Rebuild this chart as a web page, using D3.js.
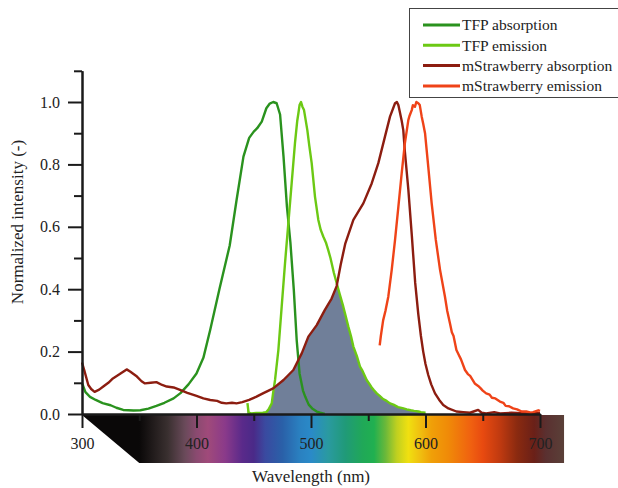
<!DOCTYPE html>
<html>
<head>
<meta charset="utf-8">
<script src="https://cdn.jsdelivr.net/npm/d3@7"></script>
<style>
  body { margin: 0; background: #fff; }
  svg text { font-family: "Liberation Serif", "Times New Roman", serif; fill: #222; }
</style>
</head>
<body>
<svg width="618" height="488"></svg>
<script>
// Spectra, [wavelength nm, normalized intensity]
const tfpAbsorption = [
  [300,0.10],[303,0.07],[307,0.055],[312,0.045],[318,0.035],[325,0.028],[330,0.02],[336,0.013],
  [345,0.011],[351,0.012],[358,0.017],[365,0.026],[372,0.036],[380,0.05],[386,0.067],[393,0.095],
  [400,0.13],[406,0.18],[412,0.27],[420,0.40],[429,0.54],[435,0.686],[441,0.825],[446,0.885],
  [450,0.905],[453,0.916],[457,0.937],[461,0.98],[464,0.995],[467,1.0],[470,0.996],[473,0.96],
  [476,0.825],[479,0.664],[482,0.55],[485,0.397],[487.5,0.237],[490,0.13],[493,0.075],[495,0.055],
  [498,0.03],[501,0.018],[505,0.008],[508,0.004],[512,0.0]
];
const tfpEmission = [
  [444.5,0.035],[445.5,0.004],[448,0.002],[452,0.003],[458,0.004],[461,0.006],[463,0.015],
  [465.7,0.034],[467,0.07],[468.6,0.109],[471.5,0.205],[474.4,0.344],[477.3,0.483],[480.2,0.611],
  [483.1,0.739],[486,0.868],[488,0.94],[489,0.964],[490,0.99],[491.3,1.0],[492.5,0.985],[493.9,0.974],
  [496.8,0.91],[498.5,0.86],[500.6,0.804],[503.5,0.696],[506.4,0.622],[508.5,0.59],[510.8,0.568],
  [513,0.55],[515,0.526],[517,0.5],[520,0.452],[523,0.412],[525,0.385],[528.2,0.344],[530,0.318],
  [532.6,0.28],[535,0.248],[537,0.216],[540,0.186],[542.8,0.152],[545,0.138],[548.6,0.109],
  [551,0.096],[553,0.085],[555,0.076],[557.4,0.066],[560,0.058],[563,0.048],[566,0.042],[569,0.034],
  [572,0.03],[576,0.022],[580,0.019],[583.6,0.015],[587,0.012],[590,0.01],[594,0.008],[596,0.006],[600,0.004]
];
const strawberryAbsorption = [
  [300,0.165],[302,0.14],[305.5,0.093],[308,0.08],[311,0.071],[315,0.078],[318.6,0.088],[323,0.1],
  [327,0.114],[333,0.128],[339,0.143],[342,0.136],[345,0.128],[348,0.12],[352,0.105],[355,0.098],
  [360,0.1],[365,0.102],[370,0.093],[374,0.088],[380,0.085],[385.6,0.077],[392,0.068],[400,0.058],
  [406,0.05],[412,0.045],[418,0.042],[422,0.036],[426,0.034],[431,0.036],[435,0.034],[440,0.038],
  [446,0.045],[452,0.055],[458,0.066],[467,0.082],[476,0.109],[484.6,0.141],[492,0.195],[497.7,0.248],
  [505,0.285],[512,0.333],[518,0.37],[522.4,0.41],[526,0.48],[530,0.547],[537,0.622],[545.7,0.675],
  [553,0.739],[558.8,0.804],[564.6,0.889],[569,0.953],[573.4,0.996],[575,1.0],[576.3,0.99],
  [579.2,0.94],[580.6,0.91],[582,0.84],[585,0.72],[588,0.575],[591,0.42],[593.7,0.32],[596,0.25],
  [598,0.2],[600,0.16],[602.4,0.125],[605,0.095],[608.3,0.066],[612,0.045],[615.5,0.029],[620,0.018],
  [627,0.008],[633,0.006],[638.9,0.004],[642,0.008],[646,0.013],[649,0.004],[653,0.002],[660,0.006],
  [665,0.002],[675,0.004],[690,0.002],[700,0.003]
];
const strawberryEmission = [
  [560,0.22],[561,0.25],[563,0.30],[565,0.33],[567.5,0.376],[570.5,0.462],[573.4,0.558],[576.3,0.664],
  [579.2,0.771],[582,0.868],[585,0.942],[586,0.955],[588,0.974],[589,0.99],[590.8,0.985],[592,1.0],
  [593.7,0.996],[595,0.99],[596.7,0.953],[598,0.93],[599.6,0.90],[602.4,0.793],[605.4,0.675],
  [609,0.558],[612.7,0.462],[617,0.376],[619,0.33],[621.4,0.29],[623,0.262],[624.5,0.25],[627,0.205],
  [629,0.19],[631,0.175],[634.5,0.141],[637,0.128],[639,0.122],[643,0.098],[646,0.09],[648,0.083],
  [650,0.075],[653,0.066],[656,0.062],[658,0.052],[661,0.05],[665,0.04],[668,0.036],[670,0.026],
  [673,0.025],[676.5,0.018],[680,0.015],[684,0.008],[688,0.008],[692,0.004],[694,0.006],[698.5,0.012],[700,0.01]
];

const seriesNames = ["TFP absorption", "TFP emission", "mStrawberry absorption", "mStrawberry emission"];
const seriesColors = ["#2a921e", "#6cc914", "#8c1d10", "#ef4318"];
const seriesData = [tfpAbsorption, tfpEmission, strawberryAbsorption, strawberryEmission];

const xMajorTicks = [300, 400, 500, 600, 700];
const xMinorTicks = [350, 450, 550, 650];
const yMajorTicks = [0, 0.2, 0.4, 0.6, 0.8, 1.0];
const yMinorTicks = [0.1, 0.3, 0.5, 0.7, 0.9, 1.1];

// visible spectrum strip under the x axis
const spectrumNm = [350, 375, 390, 400, 410, 425, 440, 450, 460, 475, 490, 500, 515, 530, 545, 555,
  565, 575, 585, 595, 605, 620, 640, 650, 665, 680, 695, 705, 721];
const spectrumColors = ["#0a0808", "#3a3030", "#6a4a5a", "#8a4a70", "#a04a7a", "#8a3a8a", "#5a2a8a",
  "#4a2a88", "#3a4aa0", "#2a60a8", "#2a80c0", "#2a8ac8", "#2a9aa0", "#209a78", "#20a858", "#20b050",
  "#6ab83a", "#c0d020", "#f0e010", "#f0c010", "#f0a008", "#f08a08", "#f06010", "#e84a10", "#c03a10",
  "#8a2a10", "#6a2018", "#5a3030", "#5a4038"];

var svg = d3.select("svg");

var x = d3.scaleLinear().domain([300, 700]).range([82, 540]);
var y = d3.scaleLinear().domain([0, 1.1]).range([414, 70.8]);

/* spectrum strip */
var barTop = 415, barBottom = 463, barEnd = 721;
var grad = svg.append("defs").append("linearGradient")
  .attr("id", "spec")
  .attr("gradientUnits", "userSpaceOnUse")
  .attr("x1", x(300)).attr("x2", x(barEnd))
  .attr("y1", 0).attr("y2", 0);
grad.append("stop").attr("offset", 0).attr("stop-color", spectrumColors[0]);
spectrumNm.forEach(function (nm, i) {
  grad.append("stop")
    .attr("offset", (x(nm) - x(300)) / (x(barEnd) - x(300)))
    .attr("stop-color", spectrumColors[i]);
});
svg.append("path")
  .attr("d", `M${x(300)},${barTop}L${x(barEnd)},${barTop}L${x(barEnd)},${barBottom}L${x(350)},${barBottom}Z`)
  .attr("fill", "url(#spec)");

/* overlap: under TFP emission AND under mStrawberry absorption */
var area = d3.area()
  .x(d => x(d[0]))
  .y0(y(0))
  .y1(d => y(d[1]));

svg.select("defs").append("clipPath")
  .attr("id", "absClip")
  .append("path")
  .attr("d", area(strawberryAbsorption));

svg.append("path")
  .attr("d", area(tfpEmission))
  .attr("clip-path", "url(#absClip)")
  .attr("fill", "#707f99");

/* curves */
var line = d3.line()
  .x(d => x(d[0]))
  .y(d => y(d[1]));

svg.append("g").attr("class", "curves")
  .selectAll("path")
  .data(seriesData)
  .enter().append("path")
  .attr("d", line)
  .attr("fill", "none")
  .attr("stroke", (d, i) => seriesColors[i])
  .attr("stroke-width", 2.4)
  .attr("stroke-linejoin", "round");

/* axes */
function styleAxis(g) {
  g.selectAll("path.domain").attr("stroke", "#1a1a1a").attr("stroke-width", 2);
  g.selectAll(".tick line").attr("stroke", "#1a1a1a").attr("stroke-width", 2);
  g.selectAll("text").attr("font-size", 16).attr("fill", "#222")
    .attr("font-family", "Liberation Serif, serif");
}

svg.append("g")
  .attr("transform", `translate(0,${y(0)})`)
  .call(d3.axisBottom(x).tickValues(xMinorTicks).tickSize(7).tickSizeOuter(0).tickFormat(""))
  .call(styleAxis);
svg.append("g")
  .attr("transform", `translate(0,${y(0)})`)
  .call(d3.axisBottom(x).tickValues(xMajorTicks).tickSize(14).tickPadding(10).tickSizeOuter(0).tickFormat(d3.format("d")))
  .call(styleAxis);

svg.append("g")
  .attr("transform", `translate(${x(300)},0)`)
  .call(d3.axisLeft(y).tickValues(yMinorTicks).tickSize(8).tickSizeOuter(0).tickFormat(""))
  .call(styleAxis);
svg.append("g")
  .attr("transform", `translate(${x(300)},0)`)
  .call(d3.axisLeft(y).tickValues(yMajorTicks).tickSize(14).tickPadding(8).tickSizeOuter(0).tickFormat(d3.format(".1f")))
  .call(styleAxis);

/* axis titles */
svg.append("text")
  .attr("x", 311).attr("y", 482)
  .attr("text-anchor", "middle")
  .attr("font-size", 17)
  .text("Wavelength (nm)");

svg.append("text")
  .attr("transform", "translate(23,222) rotate(-90)")
  .attr("text-anchor", "middle")
  .attr("font-size", 17)
  .text("Normalized intensity (-)");

/* legend */
var legend = svg.append("g").attr("class", "legend");
legend.append("rect")
  .attr("x", 409.5).attr("y", 8.5)
  .attr("width", 220).attr("height", 89)
  .attr("fill", "#fff")
  .attr("stroke", "#444").attr("stroke-width", 1);

var rows = legend.selectAll("g.row")
  .data(seriesNames)
  .enter().append("g")
  .attr("class", "row")
  .attr("transform", (d, i) => `translate(0,${25 + i * 20.3})`);
rows.append("line")
  .attr("x1", 423).attr("x2", 460)
  .attr("stroke", (d, i) => seriesColors[i])
  .attr("stroke-width", 3);
rows.append("text")
  .attr("x", 462).attr("dy", "0.35em")
  .attr("font-size", 15.5)
  .text(d => d);
</script>
</body>
</html>
